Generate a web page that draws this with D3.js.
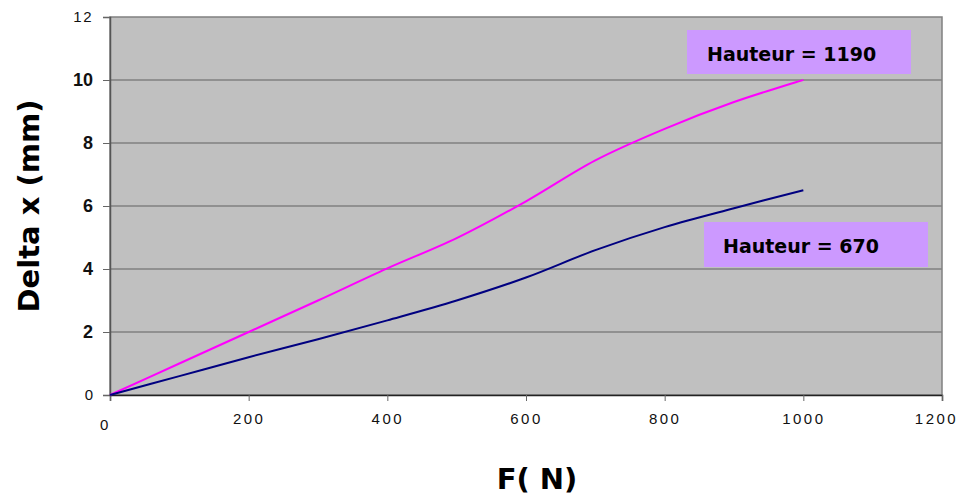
<!DOCTYPE html>
<html>
<head>
<meta charset="utf-8">
<script src="https://d3js.org/d3.v7.min.js"></script>
<style>
  body { margin: 0; background: #fff; }
  svg { display: block; }
</style>
</head>
<body>
<svg id="chart" width="965" height="497"></svg>
<script>
'use strict'

// ----------------------------------------------------------- DATA -------
let forces = [0, 100, 200, 300, 400, 500, 600, 700, 800, 900, 1000]
let delta1190 = [0, 1.0, 2.0, 3.0, 4.02, 4.98, 6.15, 7.45, 8.45, 9.3, 10.0]
let delta670 = [0, 0.6, 1.2, 1.77, 2.37, 3.0, 3.73, 4.6, 5.33, 5.93, 6.5]
let xTicks = [0, 200, 400, 600, 800, 1000, 1200]
let yTicks = [0, 2, 4, 6, 8, 10, 12]
let seriesNames = ['Hauteur = 1190', 'Hauteur = 670']
let seriesColors = ['#ff00ff', '#000080']

let svg = d3.select('#chart')

// ----------------------------------------------------- POSITIONS -------
let plotLeft = 110, plotRight = 942, plotTop = 17, plotBottom = 395

let xScale = d3.scaleLinear().domain([0, 1200]).range([plotLeft, plotRight])
let yScale = d3.scaleLinear().domain([0, 12]).range([plotBottom, plotTop])

// plot background
svg.append('rect')
  .attr('x', plotLeft).attr('y', plotTop)
  .attr('width', plotRight - plotLeft).attr('height', plotBottom - plotTop)
  .attr('fill', '#c0c0c0')
  .attr('stroke', '#808080')
  .attr('stroke-width', 1.5)

// grid
svg.append('g')
  .selectAll('line')
  .data(yTicks.filter(d => d > 0 && d < 12))
  .enter().append('line')
    .attr('x1', plotLeft).attr('x2', plotRight)
    .attr('y1', d => yScale(d)).attr('y2', d => yScale(d))
    .attr('stroke', '#808080')
    .attr('stroke-width', 1.6)

// ------------------------------------------------------- AXES -------
let yAxis = d3.axisLeft(yScale).tickValues(yTicks).tickSize(7).tickPadding(10)
  .tickFormat(d3.format('d'))
let yG = svg.append('g')
  .attr('transform', 'translate(' + plotLeft + ',0)')
  .call(yAxis)
yG.select('.domain').attr('stroke', '#555').attr('stroke-width', 1.5)
yG.selectAll('.tick line').attr('stroke', '#666')
yG.selectAll('.tick text')
  .style('font-family', 'Liberation Sans, Arial, sans-serif')
  .style('font-size', d => (d == 0 || d == 12) ? '15px' : '18px')
  .style('font-weight', d => (d == 0 || d == 12) ? 'normal' : 'bold')
  .attr('letter-spacing', d => d == 12 ? 1.5 : 0)
  .attr('fill', '#111')

let xAxis = d3.axisBottom(xScale).tickValues(xTicks).tickSize(6).tickPadding(12)
  .tickFormat(d3.format('d'))
let xG = svg.append('g')
  .attr('transform', 'translate(0,' + plotBottom + ')')
  .call(xAxis)
xG.select('.domain').attr('stroke', '#222').attr('stroke-width', 1.5)
xG.selectAll('.tick line').attr('stroke', '#666')
xG.selectAll('.tick text')
  .style('font-family', 'Liberation Sans, Arial, sans-serif')
  .style('font-size', '15px')
  .attr('letter-spacing', 2.5)
  .attr('fill', '#111')
  .attr('dx', d => d == 0 ? -5 : (d == 1200 ? -6 : 0))
  .attr('dy', d => d == 0 ? '1.1em' : '0.71em')

// axis titles
svg.append('text')
  .attr('transform', 'translate(39,' + ((plotTop + plotBottom) / 2) + ') rotate(-90)')
  .attr('text-anchor', 'middle')
  .attr('font-family', 'DejaVu Sans, Verdana, sans-serif')
  .attr('font-weight', 'bold')
  .attr('font-size', 29)
  .text('Delta x (mm)')

svg.append('text')
  .attr('x', 537).attr('y', 489)
  .attr('text-anchor', 'middle')
  .attr('font-family', 'DejaVu Sans, Verdana, sans-serif')
  .attr('font-weight', 'bold')
  .attr('font-size', 29)
  .text('F( N)')

// ------------------------------------------------------- LINES -------
let lineFunction = d3.line()
  .x(d => xScale(d.f))
  .y(d => yScale(d.v))
  .curve(d3.curveCatmullRom)

let series = [delta1190, delta670].map((vals, i) => ({
  name: seriesNames[i],
  color: seriesColors[i],
  values: forces.map((f, j) => ({ f: f, v: vals[j] }))
}))

svg.append('g')
  .selectAll('path')
  .data(series)
  .enter().append('path')
    .attr('d', d => lineFunction(d.values))
    .attr('fill', 'none')
    .attr('stroke', d => d.color)
    .attr('stroke-width', 2)

// ------------------------------------------------------ LABELS -------
let labelBoxes = [
  { x: 687, y: 30, w: 224, h: 44, tx: 707, ty: 61 },
  { x: 704, y: 222, w: 224, h: 45, tx: 723, ty: 253 }
]

let labels = svg.append('g')
  .selectAll('g')
  .data(series)
  .enter().append('g')

labels.append('rect')
  .attr('x', (d, i) => labelBoxes[i].x)
  .attr('y', (d, i) => labelBoxes[i].y)
  .attr('width', (d, i) => labelBoxes[i].w)
  .attr('height', (d, i) => labelBoxes[i].h)
  .attr('fill', '#cc99ff')

labels.append('text')
  .attr('x', (d, i) => labelBoxes[i].tx)
  .attr('y', (d, i) => labelBoxes[i].ty)
  .attr('font-family', 'DejaVu Sans, Verdana, sans-serif')
  .attr('font-weight', 'bold')
  .attr('font-size', 19)
  .attr('fill', '#000')
  .text(d => d.name)
</script>
</body>
</html>
